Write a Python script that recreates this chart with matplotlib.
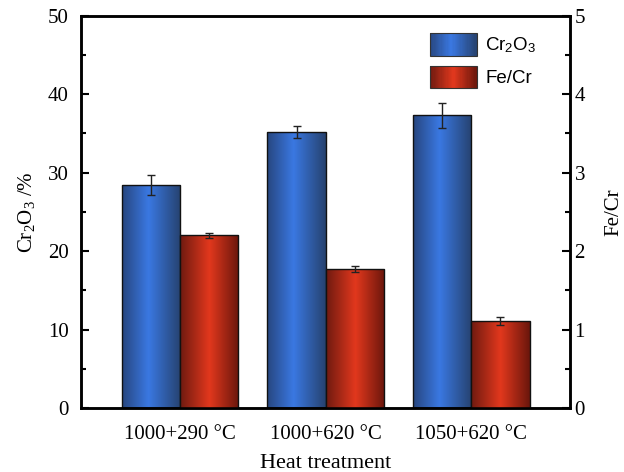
import numpy as np
import matplotlib
matplotlib.use("Agg")
import matplotlib.pyplot as plt
from matplotlib.colors import LinearSegmentedColormap
from matplotlib.patches import Rectangle
from matplotlib.legend_handler import HandlerBase
from matplotlib.ticker import MultipleLocator

# Data
treatments = ["1000+290 °C", "1000+620 °C", "1050+620 °C"]
cr2o3 = [28.4, 35.2, 37.3]
cr2o3_err = [1.3, 0.75, 1.6]
fe_cr = [2.20, 1.77, 1.11]
fe_cr_err = [0.03, 0.04, 0.05]

plt.rcParams["font.family"] = ["Liberation Serif", "DejaVu Serif"]
plt.rcParams["mathtext.fontset"] = "custom"
plt.rcParams["mathtext.rm"] = "Liberation Serif"
plt.rcParams["mathtext.it"] = "Liberation Serif:italic"
plt.rcParams["mathtext.sf"] = "Liberation Sans"

blue_cmap = LinearSegmentedColormap.from_list(
    "blue_tube", [(0.0, "#27467f"), (0.45, "#3a78e2"), (1.0, "#26426f")])
red_cmap = LinearSegmentedColormap.from_list(
    "red_tube", [(0.0, "#6e1a10"), (0.5, "#e2381d"), (1.0, "#6a160c")])

fig = plt.figure(figsize=(6.24, 4.72), dpi=100)
ax = fig.add_axes([0.13, 0.135, 0.784, 0.832])
ax2 = ax.twinx()

x = np.arange(len(treatments))
w = 0.40

def shade_bars(axis, bars, cmap):
    grad = np.linspace(0, 1, 256).reshape(1, -1)
    for r in bars:
        x0, y0 = r.get_xy()
        im = axis.imshow(grad, extent=(x0, x0 + r.get_width(), y0, y0 + r.get_height()),
                         aspect="auto", cmap=cmap, interpolation="bicubic",
                         zorder=r.get_zorder() - 0.1, origin="lower")
        im.set_clip_path(r)
        r.set_facecolor("none")

b1 = ax.bar(x - w / 2, cr2o3, w, edgecolor="#111111", linewidth=1.0, zorder=2)
shade_bars(ax, b1, blue_cmap)
ax.errorbar(x - w / 2, cr2o3, yerr=cr2o3_err, fmt="none", ecolor="#222222",
            elinewidth=1.0, capsize=3, capthick=1.0, zorder=3)

b2 = ax2.bar(x + w / 2, fe_cr, w, edgecolor="#111111", linewidth=1.0, zorder=2)
shade_bars(ax2, b2, red_cmap)
ax2.errorbar(x + w / 2, fe_cr, yerr=fe_cr_err, fmt="none", ecolor="#222222",
             elinewidth=1.0, capsize=3, capthick=1.0, zorder=3)

ax.set_xlim(-0.68, 2.68)
ax.set_ylim(0, 50)
ax2.set_ylim(0, 5)

ax.set_xticks(x)
ax.set_xticklabels(treatments, fontsize=15)
ax.tick_params(axis="x", length=0, pad=12)
ax.yaxis.set_major_locator(MultipleLocator(10))
ax.yaxis.set_minor_locator(MultipleLocator(5))
ax2.yaxis.set_major_locator(MultipleLocator(1))
ax2.yaxis.set_minor_locator(MultipleLocator(0.5))
for a in (ax, ax2):
    a.tick_params(axis="y", which="major", direction="in", length=6, width=1.5, labelsize=15)
    a.tick_params(axis="y", which="minor", direction="in", length=3.5, width=1.5)
    for s in a.spines.values():
        s.set_linewidth(1.8)
ax.tick_params(axis="y", which="major", pad=9)
ax2.tick_params(axis="y", which="major", pad=3)

ax.set_xlabel("Heat treatment", fontsize=16, labelpad=7)
ax.set_ylabel(r"Cr$_2$O$_3$ /%", fontsize=15, labelpad=8)
ax2.set_ylabel("Fe/Cr", fontsize=15, labelpad=14)


class GradientHandler(HandlerBase):
    def __init__(self, cmap, **kw):
        super().__init__(**kw)
        self.cmap = cmap

    def create_artists(self, legend, orig_handle, xdescent, ydescent,
                       width, height, fontsize, trans):
        n = 40
        arts = []
        for i in range(n):
            c = self.cmap((i + 0.5) / n)
            arts.append(Rectangle((-xdescent + width * i / n, -ydescent), width / n + 0.3,
                                  height, facecolor=c, edgecolor="none", transform=trans))
        arts.append(Rectangle((-xdescent, -ydescent), width, height, facecolor="none",
                              edgecolor="#333333", linewidth=0.8, transform=trans))
        return arts


h1 = Rectangle((0, 0), 1, 1)
h2 = Rectangle((0, 0), 1, 1)
leg = ax2.legend([h1, h2], [r"Cr$_\mathsf{2}$O$_\mathsf{3}$", "Fe/Cr"],
                 handler_map={h1: GradientHandler(blue_cmap), h2: GradientHandler(red_cmap)},
                 loc="upper left", bbox_to_anchor=(0.713, 0.955), frameon=False,
                 borderpad=0, borderaxespad=0,
                 prop={"family": "Liberation Sans", "size": 13.5},
                 handlelength=2.5, handleheight=1.45, labelspacing=0.55, handletextpad=0.45)

fig.savefig("out.png", dpi=100)
